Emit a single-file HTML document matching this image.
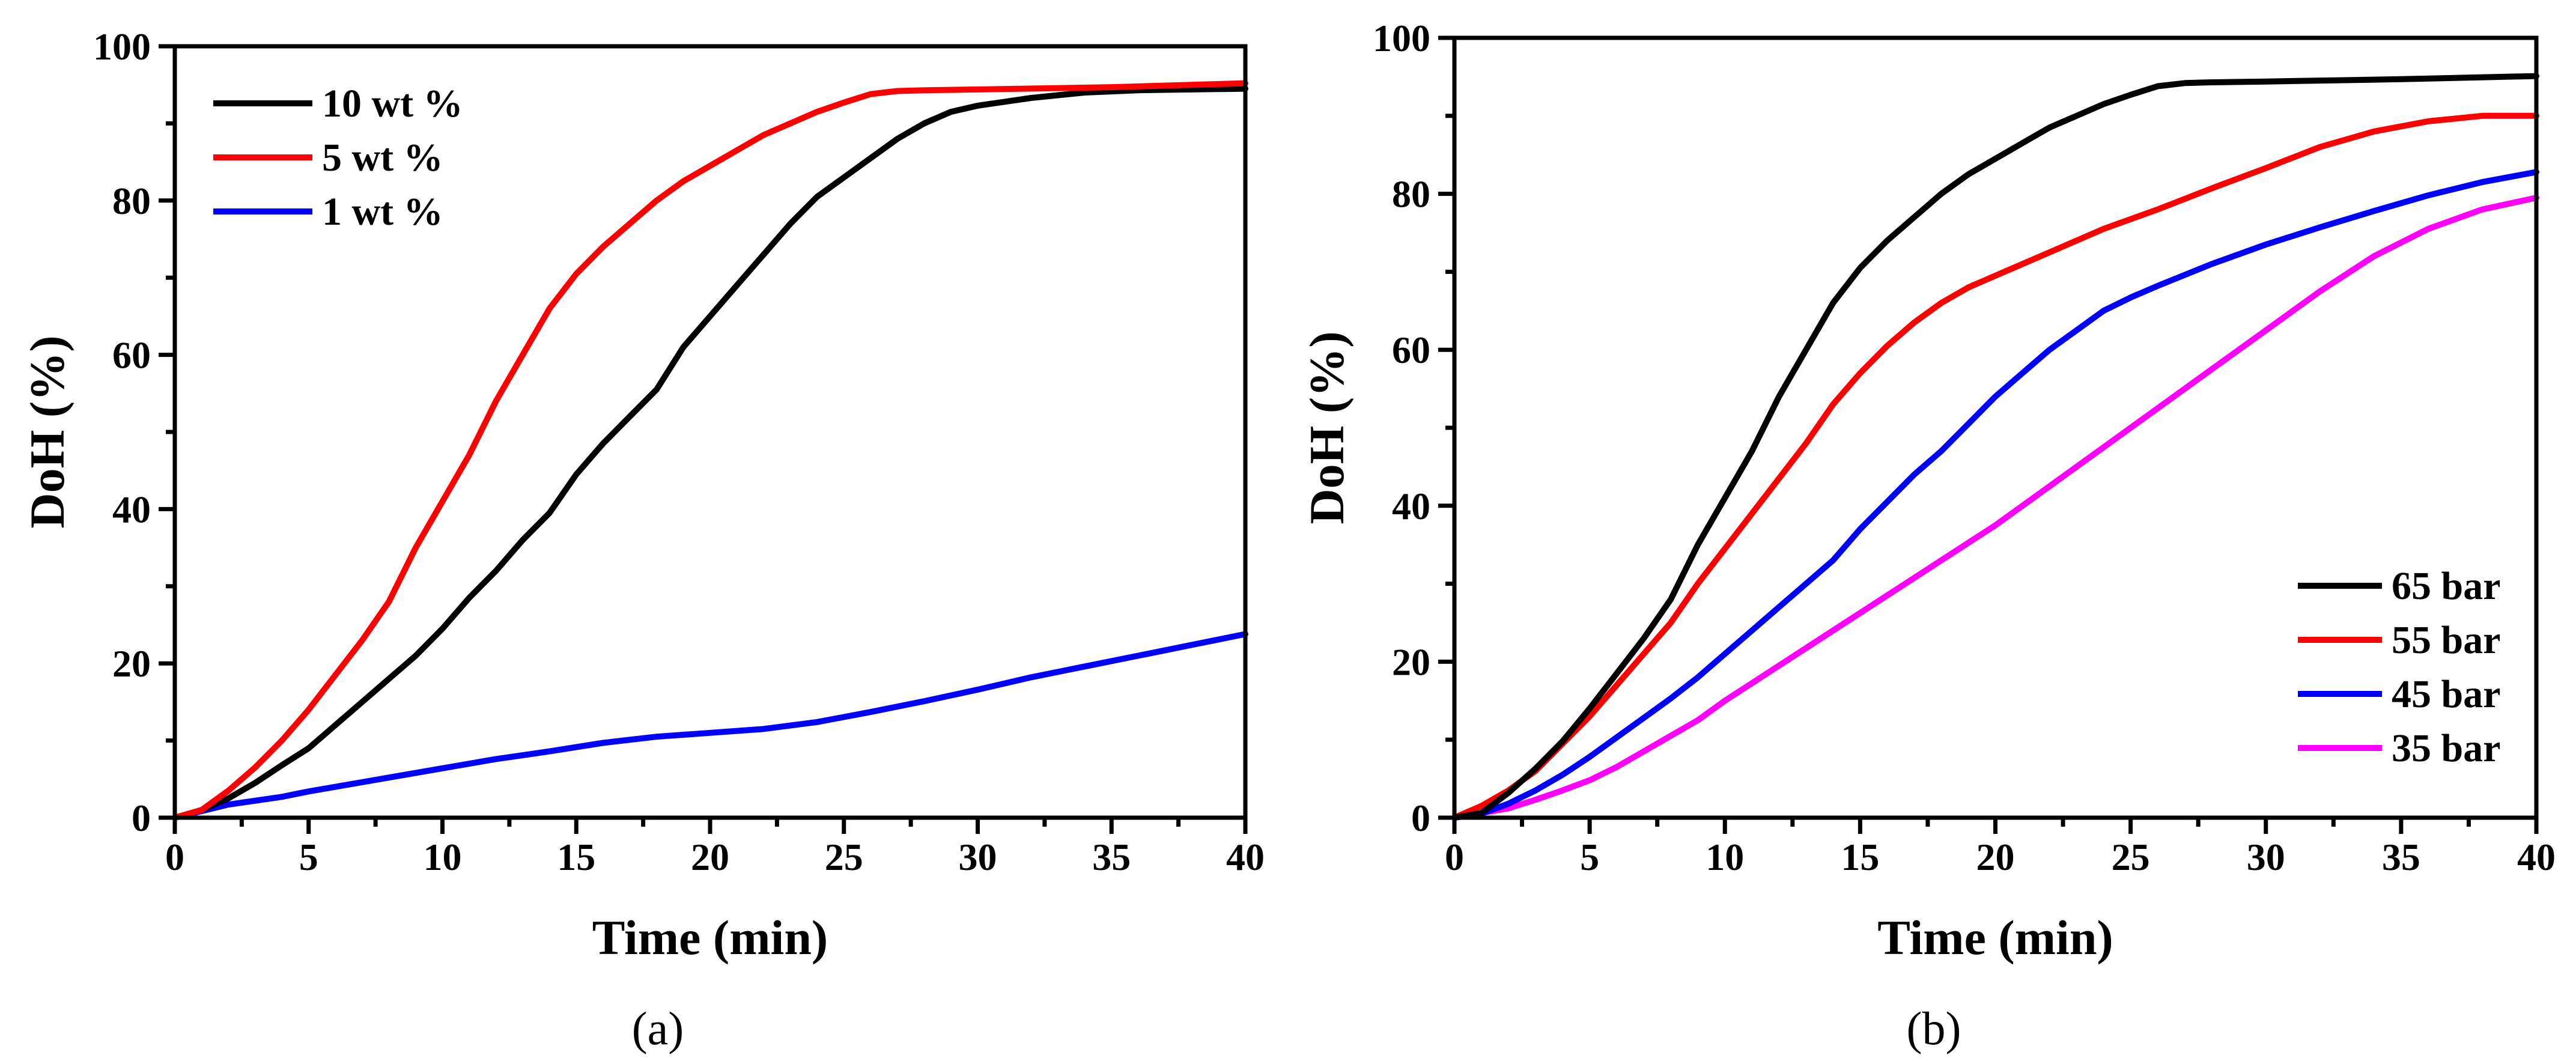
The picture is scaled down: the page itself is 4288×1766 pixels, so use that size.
<!DOCTYPE html>
<html><head><meta charset="utf-8"><style>
html,body{margin:0;padding:0;background:#fff}
svg{display:block}
text{font-family:"Liberation Serif",serif}
</style></head><body>
<svg id="chart" width="4288" height="1766" viewBox="0 0 4288 1766" xmlns="http://www.w3.org/2000/svg"></svg>
<script>
const xTicks=[0,5,10,15,20,25,30,35,40];
const yTicks=[0,20,40,60,80,100];
const aNames=["10 wt %","5 wt %","1 wt %"];
const aColors=["#000000","#ff0000","#0000ff"];
const a10x=[0,1,2,3,4,5,6,7,8,9,10,11,12,13,14,15,16,17,18,19,20,21,22,23,24,25,26,27,28,29,30,32,34,36,40];
const a10y=[0,1,2.5,4.5,6.8,9,12,15,18,21,24.5,28.5,32,36,39.5,44.5,48.5,52,55.5,61,65,69,73,77,80.5,83,85.5,88,90,91.5,92.3,93.3,94,94.3,94.5];
const a5x=[0,1,2,3,4,5,6,7,8,9,10,11,12,13,14,15,16,17,18,19,20,21,22,23,24,25,26,27,28,30,35,40];
const a5y=[0,1,3.5,6.5,10,14,18.5,23,28,35,41,47,54,60,66,70.5,74,77,80,82.5,84.5,86.5,88.5,90,91.5,92.7,93.8,94.2,94.3,94.4,94.7,95.2];
const a1x=[0,2,4,5,8,10,12,14,16,18,20,22,24,26,28,30,32,34,36,38,40];
const a1y=[0,1.7,2.7,3.4,5.2,6.4,7.6,8.6,9.7,10.5,11,11.5,12.4,13.7,15.1,16.6,18.2,19.6,21,22.4,23.8];
const bNames=["65 bar","55 bar","45 bar","35 bar"];
const bColors=["#000000","#ff0000","#0000ff","#ff00ff"];
const b65x=a5x.slice();
const b65y=[0,0.6,3.2,6.3,9.8,14,18.5,23,28,35,41,47,54,60,66,70.5,74,77,80,82.5,84.5,86.5,88.5,90,91.5,92.7,93.8,94.2,94.3,94.4,94.7,95.1];
const b55x=[0,1,2,3,4,5,6,7,8,9,10,11,12,13,14,15,16,17,18,19,20,22,24,26,28,30,32,34,36,38,40];
const b55y=[0,1.5,3.5,6,9.5,13,17,21,25,30,34.5,39,43.5,48,53,57,60.5,63.5,66,68,69.5,72.5,75.5,78,80.7,83.3,86,88,89.3,90,90];
const b45x=[0,1,2,3,4,5,6,7,8,9,10,11,12,13,14,15,16,17,18,19,20,21,22,23,24,25,26,28,30,32,34,36,38,40];
const b45y=[0,0.5,1.8,3.5,5.5,7.8,10.3,12.8,15.3,18,21,24,27,30,33,37,40.5,44,47,50.5,54,57,60,62.5,65,66.7,68.2,71,73.5,75.7,77.8,79.8,81.5,82.8];
const b35x=[0,2,3,4,5,6,7,8,9,10,12,14,16,18,20,22,24,26,28,30,32,34,36,38,40];
const b35y=[0,1.2,2.3,3.5,4.8,6.5,8.5,10.5,12.5,15,19.5,24,28.5,33,37.5,42.5,47.5,52.5,57.5,62.5,67.5,72,75.5,78,79.5];

const NS="http://www.w3.org/2000/svg";
const svg=document.getElementById('chart');
function mk(tag,attrs,parent,txt){const e=document.createElementNS(NS,tag);for(const k in attrs)e.setAttribute(k,attrs[k]);if(txt!==undefined)e.textContent=txt;(parent||svg).appendChild(e);return e;}

function panel(id,P,series,legend,caption){
  const g=mk('g',{});
  
  
  const sx=v=>P.x0+(P.x1-P.x0)*v/40;
  const sy=v=>P.y0+(P.y1-P.y0)*v/100;
  series.forEach(s=>{
    const d=s.x.map((v,i)=>(i?'L':'M')+sx(v).toFixed(1)+' '+sy(s.y[i]).toFixed(1)).join(' ');
    const p=mk('path',{d:d,fill:'none',stroke:s.c,'stroke-width':10,'stroke-linejoin':'round','stroke-linecap':'round'},g);
    
    
  });
  const f=mk('rect',{x:P.x0,y:P.y1,width:P.x1-P.x0,height:P.y0-P.y1,fill:'none',stroke:'#000','stroke-width':7},g);
  
  
  for(let v=0;v<=40;v+=2.5){
    const maj=v%5===0;
    mk('line',{x1:sx(v),x2:sx(v),y1:P.y0,y2:P.y0+(maj?27:15),stroke:'#000','stroke-width':7},g);
  }
  xTicks.forEach(v=>{
    const t=mk('text',{x:sx(v),y:P.y0+87,'font-size':64,'font-weight':'bold','text-anchor':'middle'},g,String(v));
    
    
  });
  for(let v=0;v<=100;v+=10){
    const maj=v%20===0;
    mk('line',{x1:P.x0,x2:P.x0-(maj?27:15),y1:sy(v),y2:sy(v),stroke:'#000','stroke-width':7},g);
  }
  yTicks.forEach(v=>{
    const t=mk('text',{x:P.x0-40,y:sy(v)+22,'font-size':64,'font-weight':'bold','text-anchor':'end'},g,String(v));
    
    
  });
  const xt=mk('text',{x:(P.x0+P.x1)/2,y:1588,'font-size':82,'font-weight':'bold','text-anchor':'middle'},g,'Time (min)');
  
  
  const yt=mk('text',{x:0,y:0,'font-size':82,'font-weight':'bold','text-anchor':'middle',transform:`translate(${P.ytx},${(P.y0+P.y1)/2}) rotate(-90)`},g,'DoH (%)');
  
  
  legend.rows.forEach((r,i)=>{
    const y=legend.y[i];
    const lg=mk('g',{},g);
    
    
    mk('line',{x1:legend.lx0,x2:legend.lx1,y1:y,y2:y,stroke:r.c,'stroke-width':10},lg);
    mk('text',{x:legend.tx,y:y+22,'font-size':66,'font-weight':'bold'},lg,r.n);
  });
  const c=mk('text',{x:caption.x,y:1738,'font-size':78,'text-anchor':'middle'},g,caption.t);
  
  
}

panel('panel-a',{x0:291,x1:2073,y0:1361,y1:77,ytx:106},
  [{n:aNames[2],c:aColors[2],x:a1x,y:a1y},{n:aNames[0],c:aColors[0],x:a10x,y:a10y},{n:aNames[1],c:aColors[1],x:a5x,y:a5y}],
  {lx0:355,lx1:520,tx:536,y:[172,262,352],rows:aNames.map((n,i)=>({n:n,c:aColors[i]}))},
  {x:1095,t:'(a)'});
panel('panel-b',{x0:2421,x1:4222,y0:1361,y1:63,ytx:2236},
  [{n:bNames[3],c:bColors[3],x:b35x,y:b35y},{n:bNames[2],c:bColors[2],x:b45x,y:b45y},{n:bNames[1],c:bColors[1],x:b55x,y:b55y},{n:bNames[0],c:bColors[0],x:b65x,y:b65y}],
  {lx0:3825,lx1:3965,tx:3981,y:[975,1065,1155,1245],rows:bNames.map((n,i)=>({n:n,c:bColors[i]}))},
  {x:3219,t:'(b)'});
</script>
</body></html>
